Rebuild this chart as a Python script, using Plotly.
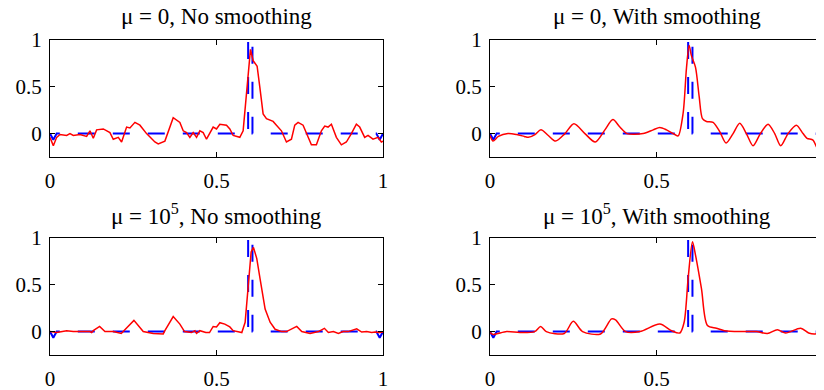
import plotly.graph_objects as go

# ---- true signal (blue dashed) ----
true_x = [0.0, 0.01, 0.02, 0.595, 0.595, 0.608, 0.608, 0.98, 0.99, 1.0]
true_y = [0.0, -0.065, 0.0, 0.0, 1.4, 1.4, 0.0, 0.0, -0.065, 0.0]

# ---- reconstructions (red) ----
tl_x = [0, 0.01, 0.02, 0.03, 0.05, 0.06, 0.07, 0.09, 0.11, 0.12, 0.13, 0.14, 0.16, 0.18, 0.19,
        0.205, 0.215, 0.23, 0.24, 0.255, 0.27, 0.29, 0.315, 0.325, 0.345, 0.36, 0.37, 0.39, 0.40,
        0.41, 0.42, 0.43, 0.44, 0.45, 0.46, 0.47, 0.48, 0.49, 0.50, 0.51, 0.53, 0.54, 0.55, 0.57,
        0.58, 0.585, 0.595, 0.602, 0.61, 0.622, 0.63, 0.64, 0.65, 0.67, 0.68, 0.695, 0.71, 0.725,
        0.735, 0.745, 0.76, 0.775, 0.785, 0.80, 0.815, 0.825, 0.835, 0.845, 0.86, 0.875, 0.89,
        0.905, 0.92, 0.93, 0.945, 0.955, 0.97, 0.985, 0.995, 1.0]
tl_y = [-0.04, -0.13, -0.04, -0.01, -0.02, 0.0, -0.02, -0.01, -0.03, 0.03, -0.05, 0.04, 0.05, 0.01,
        -0.06, -0.04, -0.09, 0.07, 0.06, 0.12, 0.09, 0.0, -0.09, -0.11, -0.08, 0.07, 0.17, 0.12,
        0.03, 0.01, -0.04, 0.01, -0.04, 0.03, 0.01, -0.06, 0.01, 0.07, 0.05, 0.1, 0.09, 0.05,
        -0.02, -0.04, 0.03, 0.25, 0.68, 0.9, 0.78, 0.72, 0.5, 0.21, 0.16, 0.13, 0.09, 0.03,
        -0.09, -0.06, 0.09, 0.12, 0.09, -0.04, -0.12, -0.12, 0.03, 0.08, 0.07, 0.1, -0.04,
        -0.12, -0.09, 0.0, 0.1, 0.07, -0.04, -0.02, -0.06, -0.04, -0.09, -0.08]

tr_x = [0, 0.009, 0.025, 0.054, 0.08, 0.103, 0.115, 0.135, 0.153, 0.175, 0.197, 0.225, 0.252,
        0.285, 0.316, 0.345, 0.369, 0.39, 0.411, 0.46, 0.49, 0.51, 0.53, 0.555, 0.565, 0.58,
        0.59, 0.598, 0.605, 0.617, 0.628, 0.638, 0.65, 0.67, 0.69, 0.709, 0.73, 0.75, 0.77,
        0.79, 0.812, 0.835, 0.855, 0.873, 0.895, 0.92, 0.94, 0.952, 0.97, 0.984, 0.992, 1.0]
tr_y = [-0.02, -0.08, -0.03, 0.0, -0.01, -0.03, -0.04, -0.01, 0.04, -0.02, -0.08, 0.0, 0.105,
        0.0, -0.09, 0.04, 0.15, 0.07, 0.0, 0.0, 0.04, 0.065, 0.04, -0.01, -0.025, 0.22,
        0.7, 0.94, 0.83, 0.71, 0.4, 0.16, 0.13, 0.12, 0.02, -0.1, 0.0, 0.11, 0.0,
        -0.13, 0.0, 0.10, 0.0, -0.13, 0.0, 0.09, 0.0, -0.05, -0.07, -0.16, -0.05, -0.08]

bl_x = [0, 0.02, 0.05, 0.07, 0.12, 0.125, 0.13, 0.149, 0.165, 0.19, 0.214, 0.222, 0.252, 0.28,
        0.31, 0.34, 0.345, 0.37, 0.39, 0.404, 0.425, 0.435, 0.44, 0.45, 0.468, 0.479, 0.49, 0.50,
        0.51, 0.525, 0.54, 0.55, 0.576, 0.586, 0.596, 0.604, 0.611, 0.621, 0.631, 0.646, 0.661,
        0.676, 0.696, 0.71, 0.741, 0.756, 0.781, 0.806, 0.824, 0.836, 0.851, 0.866, 0.88, 0.895,
        0.921, 0.936, 0.951, 0.966, 0.976, 0.99, 1.0]
bl_y = [0.0, -0.01, 0.01, 0.0, 0.0, -0.01, 0.01, 0.055, 0.0, 0.0, -0.02, 0.01, 0.12, 0.0,
        -0.02, -0.025, 0.01, 0.16, 0.08, 0.0, -0.01, 0.01, -0.02, 0.01, -0.01, -0.01, 0.055, 0.05,
        0.095, 0.08, 0.05, 0.01, -0.01, 0.1, 0.49, 0.85, 0.9, 0.78, 0.56, 0.24, 0.1,
        0.025, 0.0, 0.0, 0.055, 0.0, -0.02, 0.0, 0.035, -0.01, 0.0, -0.02, 0.0, 0.0,
        0.03, -0.005, 0.0, -0.01, -0.005, -0.01, -0.005]

br_x = [0, 0.01, 0.05, 0.09, 0.134, 0.152, 0.169, 0.223, 0.25, 0.278, 0.332, 0.365, 0.377,
        0.407, 0.45, 0.51, 0.545, 0.57, 0.583, 0.595, 0.608, 0.617, 0.635, 0.653, 0.68, 0.704,
        0.754, 0.8, 0.833, 0.863, 0.888, 0.933, 0.957, 0.977, 0.992, 1.0]
br_y = [-0.01, -0.03, 0.0, -0.01, 0.0, 0.054, 0.0, -0.02, 0.11, 0.0, -0.025, 0.136, 0.125,
        0.0, 0.0, 0.08, 0.01, -0.015, 0.1, 0.57, 0.96, 0.82, 0.46, 0.065, 0.036, 0.01,
        0.0, 0.0, -0.02, 0.02, -0.015, 0.036, -0.015, -0.025, -0.01, -0.01]

titles = ["\u03bc = 0, No smoothing", "\u03bc = 0, With smoothing",
          "\u03bc = 10<sup>5</sup>, No smoothing", "\u03bc = 10<sup>5</sup>, With smoothing"]
x_ticks = [0, 0.5, 1]
y_ticks = [0, 0.5, 1]

W, H = 824, 390
OFF = 8  # page body margin
FONT = "Liberation Serif"

panels = [
    (tl_x, tl_y, "linear", (50, 383), (40, 157)),
    (tr_x, tr_y, "spline", (490, 823), (40, 157)),
    (bl_x, bl_y, "linear", (50, 383), (238, 355)),
    (br_x, br_y, "spline", (490, 823), (238, 355)),
]

fig = go.Figure()
layout = dict(width=W, height=H, margin=dict(l=0, r=0, t=0, b=0, autoexpand=False),
              paper_bgcolor="white", plot_bgcolor="white", showlegend=False,
              font=dict(family=FONT, size=21, color="black"), annotations=[])

for i, (rx, ry, shape, (x0, x1), (y0, y1)) in enumerate(panels):
    x0, x1, y0, y1 = x0 - OFF, x1 - OFF, y0 - OFF, y1 - OFF
    n = "" if i == 0 else str(i + 1)
    xa, ya = "x" + n, "y" + n
    fig.add_trace(go.Scatter(x=true_x, y=true_y, mode="lines", xaxis=xa, yaxis=ya,
                             line=dict(color="#0000FF", width=2, dash="17px,18px"),
                             hoverinfo="skip"))
    line = dict(color="#FF0000", width=1.5, shape=shape)
    if shape == "spline":
        line["smoothing"] = 0.8
    fig.add_trace(go.Scatter(x=rx, y=ry, mode="lines", xaxis=xa, yaxis=ya, line=line,
                             hoverinfo="skip"))
    common = dict(showline=True, mirror="ticks", linecolor="black", linewidth=1,
                  ticks="inside", ticklen=5, tickcolor="black", showgrid=False,
                  zeroline=False, automargin=False,
                  tickfont=dict(family=FONT, size=21, color="black"))
    layout["xaxis" + n] = dict(domain=[x0 / W, x1 / W], range=[0, 1], tickvals=x_ticks,
                               ticktext=["0", "0.5", "1"], anchor=ya, ticklabelstandoff=5,
                               **common)
    layout["yaxis" + n] = dict(domain=[1 - y1 / H, 1 - y0 / H], range=[-0.25, 1],
                               tickvals=y_ticks, ticktext=["0", "0.5", "1"], anchor=xa,
                               ticklabelstandoff=3, **common)
    layout["annotations"].append(dict(text=titles[i], xref="paper", yref="paper",
                                      x=(x0 + x1) / 2 / W, y=1 - (y0 - 24) / H,
                                      xanchor="center", yanchor="middle", showarrow=False,
                                      font=dict(family=FONT, size=23, color="black")))

fig.update_layout(**layout)
fig.write_html("out.html")
